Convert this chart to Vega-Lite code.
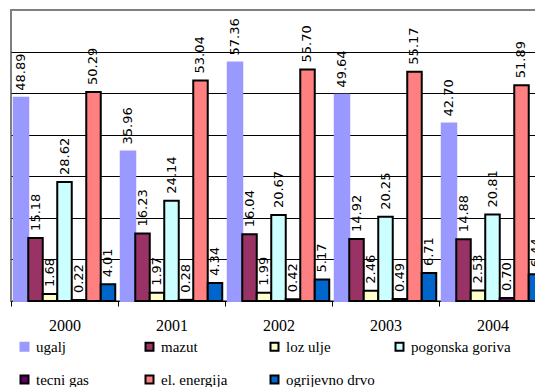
{
  "$schema": "https://vega.github.io/schema/vega-lite/v6.json",
  "width": 535,
  "height": 291,
  "padding": {"left": 10, "top": 10, "right": 10, "bottom": 10},
  "background": "white",
  "config": {
    "view": {"stroke": "#808080", "strokeWidth": 2},
    "font": "Liberation Serif"
  },
  "data": {
    "values": [
      {"year": "2000", "series": "ugalj", "value": 48.89},
      {"year": "2000", "series": "mazut", "value": 15.18},
      {"year": "2000", "series": "loz ulje", "value": 1.68},
      {"year": "2000", "series": "pogonska goriva", "value": 28.62},
      {"year": "2000", "series": "tecni gas", "value": 0.22},
      {"year": "2000", "series": "el. energija", "value": 50.29},
      {"year": "2000", "series": "ogrijevno drvo", "value": 4.01},
      {"year": "2001", "series": "ugalj", "value": 35.96},
      {"year": "2001", "series": "mazut", "value": 16.23},
      {"year": "2001", "series": "loz ulje", "value": 1.97},
      {"year": "2001", "series": "pogonska goriva", "value": 24.14},
      {"year": "2001", "series": "tecni gas", "value": 0.28},
      {"year": "2001", "series": "el. energija", "value": 53.04},
      {"year": "2001", "series": "ogrijevno drvo", "value": 4.34},
      {"year": "2002", "series": "ugalj", "value": 57.36},
      {"year": "2002", "series": "mazut", "value": 16.04},
      {"year": "2002", "series": "loz ulje", "value": 1.99},
      {"year": "2002", "series": "pogonska goriva", "value": 20.67},
      {"year": "2002", "series": "tecni gas", "value": 0.42},
      {"year": "2002", "series": "el. energija", "value": 55.70},
      {"year": "2002", "series": "ogrijevno drvo", "value": 5.17},
      {"year": "2003", "series": "ugalj", "value": 49.64},
      {"year": "2003", "series": "mazut", "value": 14.92},
      {"year": "2003", "series": "loz ulje", "value": 2.46},
      {"year": "2003", "series": "pogonska goriva", "value": 20.25},
      {"year": "2003", "series": "tecni gas", "value": 0.49},
      {"year": "2003", "series": "el. energija", "value": 55.17},
      {"year": "2003", "series": "ogrijevno drvo", "value": 6.71},
      {"year": "2004", "series": "ugalj", "value": 42.70},
      {"year": "2004", "series": "mazut", "value": 14.88},
      {"year": "2004", "series": "loz ulje", "value": 2.53},
      {"year": "2004", "series": "pogonska goriva", "value": 20.81},
      {"year": "2004", "series": "tecni gas", "value": 0.70},
      {"year": "2004", "series": "el. energija", "value": 51.89},
      {"year": "2004", "series": "ogrijevno drvo", "value": 6.44}
    ]
  },
  "encoding": {
    "x": {
      "field": "year", "type": "nominal", "title": null,
      "scale": {"paddingInner": 0, "paddingOuter": 0},
      "axis": {
        "labelAngle": 0, "labelFont": "Liberation Serif", "labelFontSize": 16, "labelColor": "black",
        "tickBand": "extent", "tickSize": 5, "tickColor": "black", "domainColor": "black",
        "labelPadding": 11, "grid": false
      }
    },
    "xOffset": {
      "field": "series", "type": "nominal",
      "sort": ["ugalj", "mazut", "loz ulje", "pogonska goriva", "tecni gas", "el. energija", "ogrijevno drvo"],
      "scale": {"paddingInner": 0, "paddingOuter": 0.19}
    },
    "y": {
      "field": "value", "type": "quantitative", "title": null,
      "scale": {"domain": [0, 70], "nice": false},
      "axis": {"labels": false, "ticks": false, "domain": false, "grid": true, "gridColor": "black", "gridOpacity": 1, "gridWidth": 1, "values": [10, 20, 30, 40, 50, 60]}
    }
  },
  "layer": [
    {
      "mark": {"type": "bar", "strokeWidth": 2},
      "encoding": {
        "color": {
          "field": "series", "type": "nominal", "title": null,
          "scale": {
            "domain": ["ugalj", "mazut", "loz ulje", "pogonska goriva", "tecni gas", "el. energija", "ogrijevno drvo"],
            "range": ["#9999FF", "#993366", "#FFFFCC", "#CCFFFF", "#660066", "#FF8080", "#0066CC"]
          },
          "legend": {
            "orient": "none", "legendX": 6, "legendY": 329, "direction": "horizontal", "columns": 4,
            "gridAlign": "all", "columnPadding": 5, "rowPadding": 16,
            "symbolType": "square", "symbolSize": 64, "symbolStrokeWidth": 2, "symbolOpacity": 1,
            "labelFont": "Liberation Serif", "labelFontSize": 15, "labelColor": "black", "labelOffset": 4, "labelLimit": 200
          }
        },
        "stroke": {
          "field": "series", "type": "nominal", "title": null,
          "scale": {
            "domain": ["ugalj", "mazut", "loz ulje", "pogonska goriva", "tecni gas", "el. energija", "ogrijevno drvo"],
            "range": ["#9999FF", "black", "black", "black", "black", "black", "black"]
          }
        },
        "opacity": {"value": 1}
      }
    },
    {
      "mark": {"type": "text", "angle": 270, "align": "left", "baseline": "middle", "dx": 7, "font": "DejaVu Sans", "fontSize": 13, "color": "black"},
      "encoding": {
        "text": {"field": "value", "type": "quantitative", "format": ".2f"}
      }
    }
  ]
}
